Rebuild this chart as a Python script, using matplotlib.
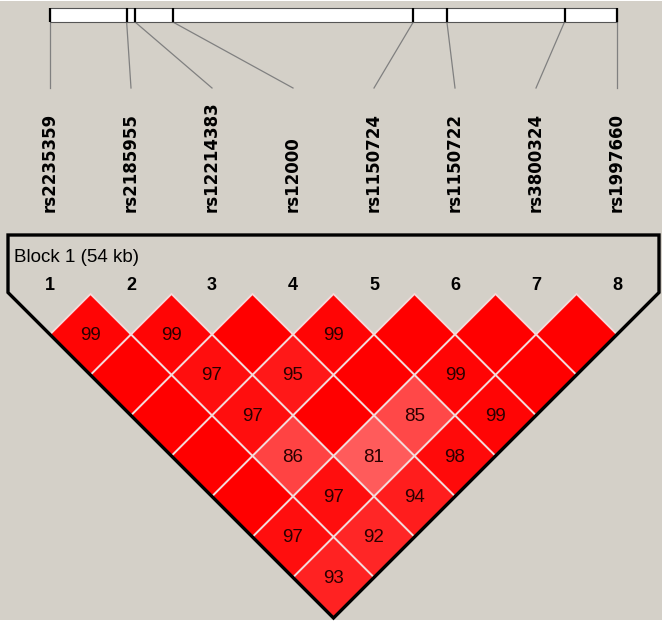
import matplotlib
matplotlib.use("Agg")
import matplotlib.pyplot as plt
from matplotlib.patches import Polygon, Rectangle

# SNP names and their physical position inside the block (kb)
snps = ['rs2235359', 'rs2185955', 'rs12214383', 'rs12000',
        'rs1150724', 'rs1150722', 'rs3800324', 'rs1997660']
pos_kb = [0.0, 7.3, 8.1, 11.7, 34.6, 37.8, 49.0, 54.0]
block_label = 'Block 1 (54 kb)'

# D' (x100) per SNP pair; 100 means shown without a number
pairs = [(1, 2), (2, 3), (3, 4), (4, 5), (5, 6), (6, 7), (7, 8),
         (1, 3), (2, 4), (3, 5), (4, 6), (5, 7), (6, 8),
         (1, 4), (2, 5), (3, 6), (4, 7), (5, 8),
         (1, 5), (2, 6), (3, 7), (4, 8),
         (1, 6), (2, 7), (3, 8),
         (1, 7), (2, 8),
         (1, 8)]
dprime = [99, 99, 100, 99, 100, 100, 100,
          100, 97, 95, 100, 99, 100,
          100, 97, 100, 85, 99,
          100, 86, 81, 98,
          100, 97, 94,
          97, 92,
          93]

# layout (pixels)
W, H = 667, 625
bg = '#d4d0c8'
x0, dx = 50, 81          # column of SNP 1 and spacing
half = dx / 2
top_y = 294              # top vertex of the first row of diamonds
bar_left, bar_right = 50, 617
bar_top, bar_bot = 8, 22
lab_line_y = 88
lab_bottom = 212

fig = plt.figure(figsize=(W / 100, H / 100), dpi=100, facecolor='white')
ax = fig.add_axes([0, 0, 1, 1])
ax.set_xlim(0, W)
ax.set_ylim(H, 0)
ax.axis('off')

ax.add_patch(Rectangle((0, 1), 662, 619, facecolor=bg, edgecolor='none', zorder=0))

# physical map bar
ax.add_patch(Rectangle((bar_left, bar_top), bar_right - bar_left, bar_bot - bar_top,
                       facecolor='white', edgecolor='#555555', lw=0.8, zorder=2))
scale = (bar_right - bar_left) / (pos_kb[-1] - pos_kb[0])
for i, p in enumerate(pos_kb):
    bx = bar_left + (p - pos_kb[0]) * scale
    lx = x0 + i * dx
    ax.plot([bx, bx], [bar_top, bar_bot], color='black', lw=1.6, zorder=3,
            solid_capstyle='butt')
    ax.plot([bx, lx], [bar_bot, lab_line_y], color='#808080', lw=0.9, zorder=1)
    ax.text(lx, lab_bottom, snps[i], rotation=90, ha='center', va='bottom',
            fontsize=12, fontweight='bold', family='DejaVu Sans', color='black')

# block outline and labels
n = len(snps)
left = x0 - 42
right = x0 + (n - 1) * dx + 42
tip_x = x0 + (n - 1) * dx / 2
tip_y = top_y + half * n
side_y = tip_y - (tip_x - left)
outline = [(left, 235), (left, side_y), (tip_x, tip_y), (right, side_y), (right, 235)]
ax.add_patch(Polygon(outline, closed=True, fill=False, edgecolor='black', lw=2.4,
                     joinstyle='miter', zorder=5))
ax.text(14, 258, block_label, ha='left', va='center', fontsize=13.5,
        family='Liberation Sans', color='black')
for i in range(n):
    ax.text(x0 + i * dx, 285, str(i + 1), ha='center', va='center', fontsize=13,
            fontweight='bold', family='Liberation Sans', color='black')

# LD diamonds
for (a, b), d in zip(pairs, dprime):
    cx = x0 + (a - 1 + b - 1) * dx / 2
    cy = top_y + half * (b - a)
    g = min(255, 480 * (1 - d / 100)) / 255
    diamond = [(cx, cy - half), (cx + half, cy), (cx, cy + half), (cx - half, cy)]
    ax.add_patch(Polygon(diamond, closed=True, facecolor=(1, g, g),
                         edgecolor='#f4dcdc', lw=1.3, zorder=3))
    if d < 100:
        ax.text(cx, cy + 1, str(d), ha='center', va='center', fontsize=13.5,
                family='Liberation Sans', color='#2a0000', zorder=4)

fig.savefig('out.png', dpi=100, facecolor='white')
